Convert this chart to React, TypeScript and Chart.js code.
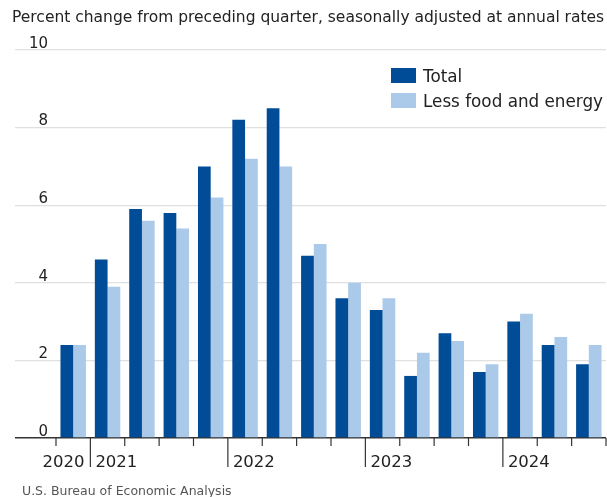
import React, { useEffect, useRef } from 'react';
import { Chart, registerables } from 'chart.js';

Chart.register(...registerables);

const quarters = [
  '2020 Q4',
  '2021 Q1', '2021 Q2', '2021 Q3', '2021 Q4',
  '2022 Q1', '2022 Q2', '2022 Q3', '2022 Q4',
  '2023 Q1', '2023 Q2', '2023 Q3', '2023 Q4',
  '2024 Q1', '2024 Q2', '2024 Q3',
];
const totalValues = [2.4, 4.6, 5.9, 5.8, 7.0, 8.2, 8.5, 4.7, 3.6, 3.3, 1.6, 2.7, 1.7, 3.0, 2.4, 1.9];
const coreValues = [2.4, 3.9, 5.6, 5.4, 6.2, 7.2, 7.0, 5.0, 4.0, 3.6, 2.2, 2.5, 1.9, 3.2, 2.6, 2.4];
const yearLabels = ['2020', '2021', '2022', '2023', '2024'];
const yearStartIndex = [0, 1, 5, 9, 13];
const yTickValues = [0, 2, 4, 6, 8, 10];
const seriesNames = ['Total', 'Less food and energy'];
const titleText = 'Percent change from preceding quarter, seasonally adjusted at annual rates';
const sourceText = 'U.S. Bureau of Economic Analysis';

const FONT = '"DejaVu Sans", sans-serif';
const DARK_BLUE = '#004c97';
const LIGHT_BLUE = '#abc9e8';

const overlayPlugin = {
  id: 'overlay',
  afterDraw(chart: any) {
    const ctx = chart.ctx;
    const xs = chart.scales.x;
    const ys = chart.scales.y;
    const step = xs.getPixelForValue(1) - xs.getPixelForValue(0);
    const base = ys.getPixelForValue(0);
    ctx.save();

    // title
    ctx.fillStyle = '#222';
    ctx.font = `15.5px ${FONT}`;
    ctx.textAlign = 'left';
    ctx.textBaseline = 'alphabetic';
    ctx.fillText(titleText, 12, 22);

    // x tick marks
    ctx.strokeStyle = '#333';
    ctx.lineWidth = 1.2;
    for (let i = 0; i <= quarters.length; i++) {
      const px = xs.getPixelForValue(i) - step / 2;
      const isYear = i > 0 && yearStartIndex.includes(i);
      ctx.beginPath();
      ctx.moveTo(px, base);
      ctx.lineTo(px, base + (isYear ? 29 : 8));
      ctx.stroke();
    }

    // year labels
    ctx.fillStyle = '#222';
    ctx.font = `16.5px ${FONT}`;
    yearLabels.forEach((lab, k) => {
      const start = yearStartIndex[k];
      const end = k + 1 < yearStartIndex.length ? yearStartIndex[k + 1] : quarters.length;
      if (end - start < 2) {
        const px = xs.getPixelForValue(end) - step / 2;
        ctx.textAlign = 'right';
        ctx.fillText(lab, px - 6, 467);
      } else {
        const px = xs.getPixelForValue(start) - step / 2;
        ctx.textAlign = 'left';
        ctx.fillText(lab, px + 5, 467);
      }
    });

    // legend
    ctx.font = `16.8px ${FONT}`;
    ctx.textAlign = 'left';
    chart.data.datasets.forEach((ds: any, i: number) => {
      const top = 68 + i * 25;
      ctx.fillStyle = ds.backgroundColor;
      ctx.fillRect(391, top, 25, 15);
      ctx.fillStyle = '#222';
      ctx.fillText(ds.label, 423, top + 14);
    });

    // source
    ctx.fillStyle = '#555';
    ctx.font = `12.5px ${FONT}`;
    ctx.fillText(sourceText, 22, 495);

    ctx.restore();
  },
};

function BarChart() {
  const ref = useRef<HTMLCanvasElement | null>(null);
  useEffect(() => {
    if (!ref.current) return;
    const chart = new Chart(ref.current, {
      type: 'bar',
      data: {
        labels: quarters,
        datasets: [
          { label: seriesNames[0], data: totalValues, backgroundColor: DARK_BLUE, borderWidth: 0, barPercentage: 1, categoryPercentage: 0.74 },
          { label: seriesNames[1], data: coreValues, backgroundColor: LIGHT_BLUE, borderWidth: 0, barPercentage: 1, categoryPercentage: 0.74 },
        ],
      },
      options: {
        animation: false,
        responsive: false,
        layout: { padding: { left: 15, right: 1, top: 50, bottom: 59 } },
        plugins: {
          legend: { display: false },
          title: { display: false },
          tooltip: { enabled: false },
        },
        scales: {
          x: { display: false },
          y: {
            min: 0,
            max: 10,
            afterBuildTicks: (s: any) => {
              s.ticks = yTickValues.map((v) => ({ value: v }));
            },
            afterFit: (s: any) => {
              s.width = 41;
            },
            border: { display: false },
            grid: {
              color: (c: any) => (c.tick && c.tick.value === 0 ? '#333' : '#e0e0e0'),
              lineWidth: (c: any) => (c.tick && c.tick.value === 0 ? 1.6 : 1.2),
              drawTicks: true,
              tickLength: 41,
            },
            ticks: {
              padding: -33,
              labelOffset: -6,
              color: '#222',
              font: { family: FONT, size: 15 },
            },
          },
        },
      },
      plugins: [overlayPlugin],
    } as any);
    return () => chart.destroy();
  }, []);
  return <canvas ref={ref} width={607} height={497} style={{ display: 'block' }} />;
}

export default function App() {
  return (
    <>
      <style>{'body{margin:0;overflow:hidden}'}</style>
      <BarChart />
    </>
  );
}
